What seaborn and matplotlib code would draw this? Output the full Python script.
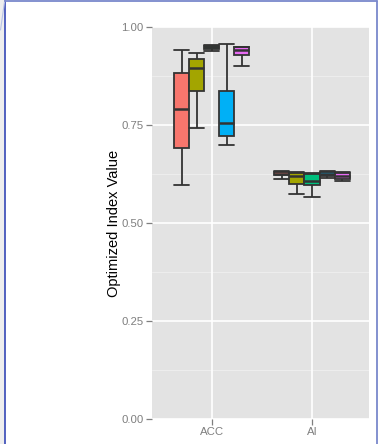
import numpy as np
import pandas as pd
import matplotlib
matplotlib.use("Agg")
import matplotlib.pyplot as plt
from matplotlib.lines import Line2D
from matplotlib.patches import Rectangle
import seaborn as sns

# Index categories on the x axis
indices = ["ACC", "AI"]
# Compared methods (hue levels)
methods = ["Method 1", "Method 2", "Method 3", "Method 4", "Method 5"]
palette = ["#F8766D", "#A3A500", "#00BF7D", "#00B0F6", "#E76BF3"]

# Five-number summaries per method: min, Q1, median, Q3, max
acc_m1 = [0.597, 0.692, 0.791, 0.882, 0.941]
acc_m2 = [0.742, 0.838, 0.895, 0.918, 0.934]
acc_m3 = [0.940, 0.943, 0.948, 0.952, 0.955]
acc_m4 = [0.698, 0.722, 0.754, 0.838, 0.956]
acc_m5 = [0.900, 0.928, 0.942, 0.948, 0.949]

ai_m1 = [0.611, 0.622, 0.626, 0.629, 0.632]
ai_m2 = [0.575, 0.599, 0.621, 0.627, 0.629]
ai_m3 = [0.567, 0.596, 0.608, 0.625, 0.628]
ai_m4 = [0.614, 0.620, 0.626, 0.629, 0.633]
ai_m5 = [0.608, 0.613, 0.620, 0.628, 0.630]

y_ticks = [0.0, 0.25, 0.5, 0.75, 1.0]
y_ticklabels = ["0.00", "0.25", "0.50", "0.75", "1.00"]
y_label = "Optimized Index Value"

series = {
    "ACC": [acc_m1, acc_m2, acc_m3, acc_m4, acc_m5],
    "AI": [ai_m1, ai_m2, ai_m3, ai_m4, ai_m5],
}
rows = []
for idx in indices:
    for m, vals in zip(methods, series[idx]):
        for v in vals:
            rows.append({"Index": idx, "Method": m, "Value": v})
df = pd.DataFrame(rows)

sns.set_style("white")
plt.rcParams["font.family"] = ["Liberation Sans", "DejaVu Sans"]

W, H = 378, 444
fig = plt.figure(figsize=(W / 100, H / 100), dpi=100)
fig.patch.set_facecolor("white")

ax = fig.add_axes([152 / W, 25 / H, (369 - 152) / W, 392 / H])
ax.set_facecolor("#E3E3E3")

# grid: minor then major, under the boxes
for yv in [0.125, 0.375, 0.625, 0.875]:
    ax.axhline(yv, color="#F0F0F0", lw=0.6, zorder=0)
for yv in y_ticks:
    ax.axhline(yv, color="white", lw=1.2, zorder=0)
for xv in [0, 1]:
    ax.axvline(xv, color="white", lw=1.2, zorder=0)

line_col = "#333333"
sns.boxplot(
    data=df, x="Index", y="Value", hue="Method",
    order=indices, hue_order=methods, palette=palette,
    width=0.75, gap=0, whis=(0, 100), fliersize=0,
    linecolor=line_col, linewidth=1.3, saturation=1,
    legend=False, ax=ax,
    medianprops={"linewidth": 1.8, "color": line_col},
)

# full-width whisker caps
box_w = 0.75 / len(methods)
for ln in ax.lines:
    xd = np.asarray(ln.get_xdata(), dtype=float)
    yd = np.asarray(ln.get_ydata(), dtype=float)
    if len(xd) == 2 and np.isclose(yd[0], yd[1]) and not np.isclose(xd[0], xd[1]):
        w = abs(xd[1] - xd[0])
        if w < box_w * 0.9:
            c = xd.mean()
            ln.set_xdata([c - box_w / 2, c + box_w / 2])

ax.set_xlim(-0.595, 1.568)
ax.set_ylim(0, 1)
ax.set_yticks(y_ticks)
ax.set_yticklabels(y_ticklabels)
ax.set_xlabel("")
ax.set_ylabel(y_label, fontsize=10.5, color="black", labelpad=0)
for s in ax.spines.values():
    s.set_visible(False)
ax.tick_params(axis="both", colors="#7F7F7F", labelcolor="#7F7F7F",
               labelsize=8.2, length=4, width=0.9, pad=2, direction="out",
               left=True, bottom=True)
ax.grid(False)

# surrounding frame
fig.add_artist(Rectangle((0, 0), 4.5 / W, 1, transform=fig.transFigure,
                         facecolor="#EEEEEE", edgecolor="none"))
fig.add_artist(Line2D([5 / W, 5 / W], [0, 1 - 1 / H], transform=fig.transFigure,
                      color="#4455BB", lw=1.3))
fig.add_artist(Line2D([377 / W, 377 / W], [0, 1 - 1 / H], transform=fig.transFigure,
                      color="#7A88CC", lw=1.3))
fig.add_artist(Line2D([5 / W, 377 / W], [1 - 1 / H, 1 - 1 / H], transform=fig.transFigure,
                      color="#7A88CC", lw=1.3))
fig.add_artist(Line2D([0.5 / W, 4.5 / W], [1 - 30 / H, 1 - 2 / H], transform=fig.transFigure,
                      color="#B8C2E6", lw=0.8))

fig.savefig("out.png", dpi=100)
